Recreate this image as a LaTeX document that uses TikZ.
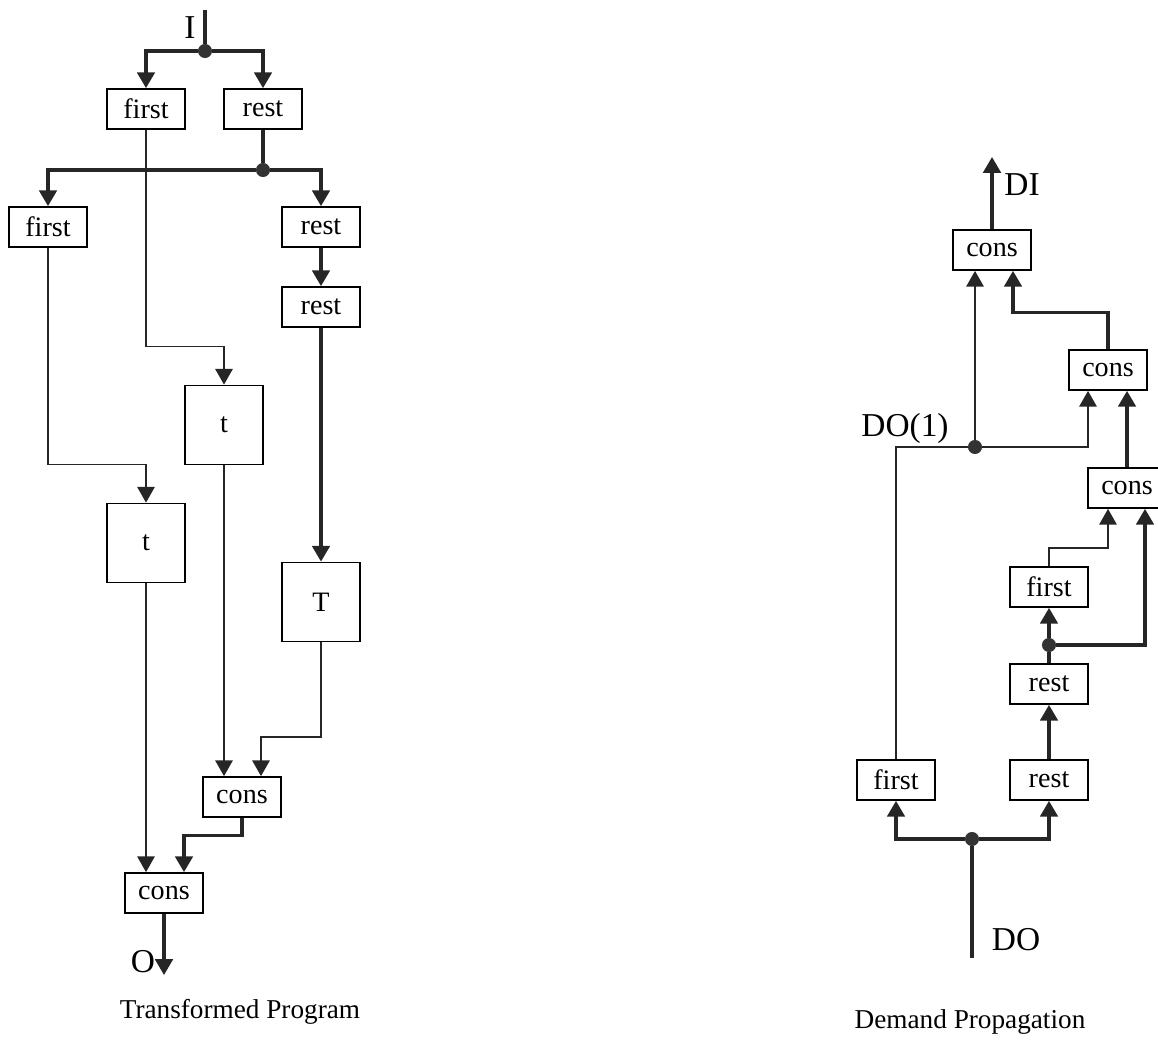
\documentclass[tikz,border=0pt]{standalone}
\usepackage{fontspec}
\setmainfont{Liberation Serif}
\usetikzlibrary{arrows.meta,calc}

\begin{document}
\begin{tikzpicture}[x=0.02cm,y=-0.02cm,font=\fontsize{16}{18}\selectfont,
box/.style={draw,line width=1pt,minimum width=1.56cm,minimum height=0.8cm,inner sep=0pt},
bigbox/.style={box,minimum height=1.58cm},
dot/.style={circle,fill=black!80,inner sep=0pt,minimum size=8pt},
lbl/.style={font=\fontsize{19}{21}\selectfont,inner sep=0pt},
caption/.style={font=\fontsize{15.5}{18}\selectfont,inner sep=0pt},
thn/.style={line width=0.8pt,black!85},
thk/.style={line width=1.8pt,black!85},
arr/.style={-{Triangle[width=10pt,length=9pt]}}]
\useasboundingbox (0,0) rectangle (1158,1044);
% transformed program
\coordinate (in) at (205,10);
\node[dot] (j1) at (205,51) {};
\node[lbl] (lI) at (190,28) {I};
\node[box] (f1) at (146,109) {first};
\node[box] (r1) at (263,109) {rest};
\node[dot] (j2) at (263,170) {};
\node[box] (f2) at (48,227) {first};
\node[box] (r2) at (321,227) {rest};
\node[box] (r3) at (321,307) {rest};
\node[bigbox] (t1) at (224,425) {t};
\node[bigbox] (t2) at (146,543) {t};
\node[bigbox] (T) at (321,602) {T};
\node[box] (c1) at (242,797) {cons};
\node[box] (c2) at (164,893) {cons};
\coordinate (out) at (164,975);
\node[lbl] (lO) at (143,962) {O};
\node[caption] (cap1) at (240,1012) {Transformed Program};
\draw[thk] (in)--(j1);
\draw[thk,arr] (j1) -| (f1.north); \draw[thk,arr] (j1) -| (r1.north);
\draw[thk] (r1.south)--(j2);
\draw[thk,arr] (j2) -| (f2.north); \draw[thk,arr] (j2) -| (r2.north);
\draw[thk,arr] (r2)--(r3);
\draw[thk,arr] (r3)--(T);
\draw[thn,arr] (f1.south) |- ($(t1.north)+(0,-38)$) -- (t1.north);
\draw[thn,arr] (f2.south) |- ($(t2.north)+(0,-38)$) -- (t2.north);
\draw[thn,arr] (t1.south) -- (t1.south |- c1.north);
\draw[thn,arr] (T.south) |- ($(c1.north)+(19,-39)$) -- ($(c1.north)+(19,0)$);
\draw[thn,arr] (t2.south) -- (t2.south |- c2.north);
\draw[thk,arr] (c1.south) |- ($(c2.north)+(20,-37)$) -- ($(c2.north)+(20,0)$);
\draw[thk,arr] (c2.south)--(out);
% demand propagation
\node[box] (c3) at (992,250) {cons};
\node[box] (c4) at (1108,370) {cons};
\node[box] (c5) at (1127,488) {cons};
\node[box] (fr) at (1049,587) {first};
\node[box] (rr1) at (1049,684) {rest};
\node[box] (rr2) at (1049,780) {rest};
\node[box] (fl) at (896,780) {first};
\node[dot] (j3) at (972,839) {};
\node[dot] (j4) at (975,447) {};
\node[dot] (j5) at (1049,645) {};
\coordinate (do) at (972,958);
\coordinate (di) at (992,157);
\node[lbl] (lDI) at (1022,185) {DI};
\node[lbl] (lDO) at (1016,940) {DO};
\node[lbl] (lDO1) at (905,428) {DO(1)};
\node[caption] (cap2) at (970,1022) {Demand Propagation};
\draw[thk] (do)--(j3);
\draw[thk,arr] (j3) -| (fl.south); \draw[thk,arr] (j3) -| (rr2.south);
\draw[thk,arr] (rr2)--(rr1);
\draw[thk] (rr1.north)--(j5);
\draw[thk,arr] (j5)--(fr.south);
\draw[thk,arr] (j5) -| ($(c5.south)+(18,0)$);
\draw[thn,arr] (fr.north) |- ($(c5.south)+(-19,39)$) -- ($(c5.south)+(-19,0)$);
\draw[thn] (fl.north) |- (j4);
\draw[thn,arr] (j4) -- (j4 |- c3.south);
\draw[thn,arr] (j4) -| ($(c4.south)+(-20,0)$);
\draw[thk,arr] (c5.north) -- ($(c4.south)+(19,0)$);
\draw[thk,arr] (c4.north) |- ($(c3.south)+(21,42)$) -- ($(c3.south)+(21,0)$);
\draw[thk,arr] (c3.north)--(di);
\end{tikzpicture}
\end{document}
